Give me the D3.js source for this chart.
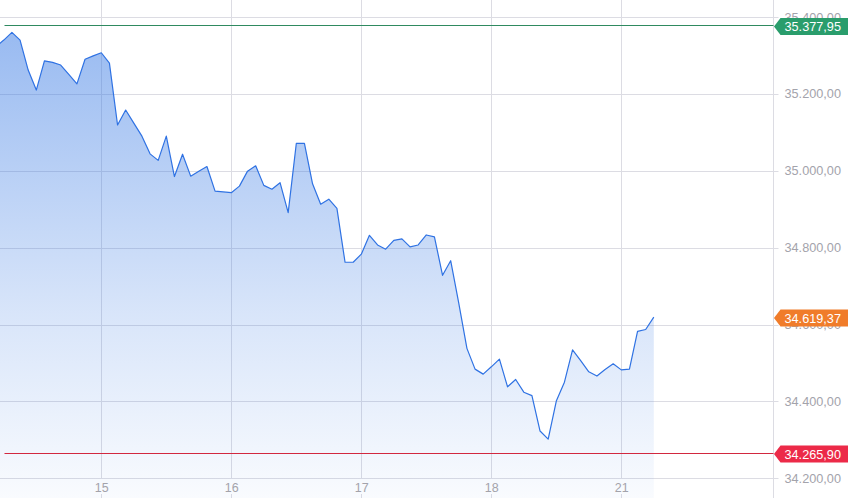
<!DOCTYPE html>
<html>
<head>
<meta charset="utf-8">
<script src="https://d3js.org/d3.v7.min.js"></script>
<style>
  html, body { margin: 0; padding: 0; background: #fff; }
  svg { display: block; font-family: "Liberation Sans", Helvetica, Arial, sans-serif; }
</style>
</head>
<body>
<script>
// price points, one every half hour-ish; first one sits just left of the view
const startIndex = -1;
const prices = [
  35322, 35340, 35360, 35340, 35262, 35210, 35286, 35282, 35275, 35251, 35226, 35290, 35299,
  35307, 35280, 35119, 35158, 35124, 35090, 35044, 35027, 35090, 34985, 35043, 34986, 34999, 35011, 34947, 34945,
  34943, 34960, 34999, 35013, 34962, 34952, 34969, 34891, 35071, 35071, 34966, 34913, 34926, 34902, 34762, 34762,
  34783, 34832, 34807, 34796, 34819, 34823, 34802, 34807, 34833, 34828, 34728, 34766, 34655, 34538, 34484, 34471,
  34490, 34510, 34438, 34457, 34424, 34415, 34323, 34302, 34401, 34450, 34534, 34506, 34477, 34466, 34483, 34498,
  34482, 34484, 34582, 34587, 34619.37
];

const dayLabels = ['15', '16', '17', '18', '21'];
const dayIndex = [12, 28, 44, 60, 76];

const yTicks = [34200, 34400, 34600, 34800, 35000, 35200, 35400];

const refNames = ['high', 'last', 'low'];
const refValues = [35377.95, 34619.37, 34265.90];
const refColors = ['#2a9d6c', '#f07c2a', '#ec2a48'];
const refLineColors = ['#2f8a60', null, '#d2283f'];

const width = 848, height = 498;
const axisX = 773.5;

const loc = d3.formatLocale({decimal: ',', thousands: '.', grouping: [3], currency: ['', '']});
const fmt = loc.format(',.2f');

const data = prices.map((v, i) => ({i: i + startIndex, v: v}));

const x = d3.scaleLinear().domain([12, 76]).range([101.3, 621.3]);
const y = d3.scaleLinear().domain([34200, 35400]).range([478.3, 17]);

const svg = d3.select('body').append('svg')
  .attr('width', width).attr('height', height);

const defs = svg.append('defs');
const grad = defs.append('linearGradient')
  .attr('id', 'fill')
  .attr('gradientUnits', 'userSpaceOnUse')
  .attr('x1', 0).attr('x2', 0).attr('y1', 30).attr('y2', height);
grad.append('stop').attr('offset', 0).attr('stop-color', '#3a7be4').attr('stop-opacity', 0.52);
grad.append('stop').attr('offset', 0.6).attr('stop-color', '#3a7be4').attr('stop-opacity', 0.2);
grad.append('stop').attr('offset', 1).attr('stop-color', '#3a7be4').attr('stop-opacity', 0.03);

defs.append('clipPath').attr('id', 'labelclip')
  .append('rect').attr('x', 0).attr('y', 12.5).attr('width', width).attr('height', height);
defs.append('clipPath').attr('id', 'plotclip')
  .append('rect').attr('x', 0).attr('y', 0).attr('width', axisX).attr('height', height);

// grid
const grid = svg.append('g').attr('stroke', '#dcdce3').attr('stroke-width', 1);
grid.selectAll('.hg').data(yTicks).enter().append('line')
  .attr('x1', 0).attr('x2', axisX + 5)
  .attr('y1', d => Math.round(y(d)) + 0.5).attr('y2', d => Math.round(y(d)) + 0.5);
grid.selectAll('.vg').data(dayIndex).enter().append('line')
  .attr('x1', d => Math.round(x(d)) + 0.5).attr('x2', d => Math.round(x(d)) + 0.5)
  .attr('y1', 0).attr('y2', Math.round(y(34200)) + 0.5);
grid.selectAll('.vt').data(dayIndex).enter().append('line')
  .attr('x1', d => Math.round(x(d)) + 0.5).attr('x2', d => Math.round(x(d)) + 0.5)
  .attr('y1', 494).attr('y2', height);
grid.append('line')
  .attr('x1', axisX).attr('x2', axisX).attr('y1', 0).attr('y2', height);

// area + line
const plot = svg.append('g').attr('clip-path', 'url(#plotclip)');
plot.append('path').datum(data)
  .attr('fill', 'url(#fill)')
  .attr('d', d3.area().x(d => x(d.i)).y0(height).y1(d => y(d.v)));
plot.append('path').datum(data)
  .attr('fill', 'none')
  .attr('stroke', '#2f72e3')
  .attr('stroke-width', 1.2)
  .attr('stroke-linejoin', 'round')
  .attr('d', d3.line().x(d => x(d.i)).y(d => y(d.v)));

// x labels
svg.append('g').selectAll('text').data(dayIndex).enter().append('text')
  .attr('x', d => x(d) + 0.5).attr('y', 492)
  .attr('text-anchor', 'middle')
  .attr('fill', '#a3a3ab').attr('font-size', 12.5)
  .text((d, i) => dayLabels[i]);

// y labels
svg.append('g').attr('clip-path', 'url(#labelclip)')
  .selectAll('text').data(yTicks).enter().append('text')
  .attr('x', 784.5).attr('y', d => y(d)).attr('dy', '0.36em')
  .attr('fill', '#a3a3ab').attr('font-size', 12.7)
  .text(d => fmt(d));

// reference lines and tags
refValues.forEach((v, k) => {
  const yy = Math.round(y(v)) + 0.5;
  if (refLineColors[k]) {
    svg.append('line')
      .attr('x1', 4.5).attr('x2', axisX).attr('y1', yy).attr('y2', yy)
      .attr('stroke', refLineColors[k]).attr('stroke-width', 1);
  }
  const cy = y(v) + 1;
  const h = 17;
  svg.append('path')
    .attr('fill', refColors[k])
    .attr('d', `M${axisX + 0.5},${cy} L${axisX + 7},${cy - h / 2} L${width},${cy - h / 2} L${width},${cy + h / 2} L${axisX + 7},${cy + h / 2} Z`);
  svg.append('text')
    .attr('x', 784.5).attr('y', cy).attr('dy', '0.36em')
    .attr('fill', '#fff').attr('font-size', 12.7)
    .text(fmt(v));
});
</script>
</body>
</html>
